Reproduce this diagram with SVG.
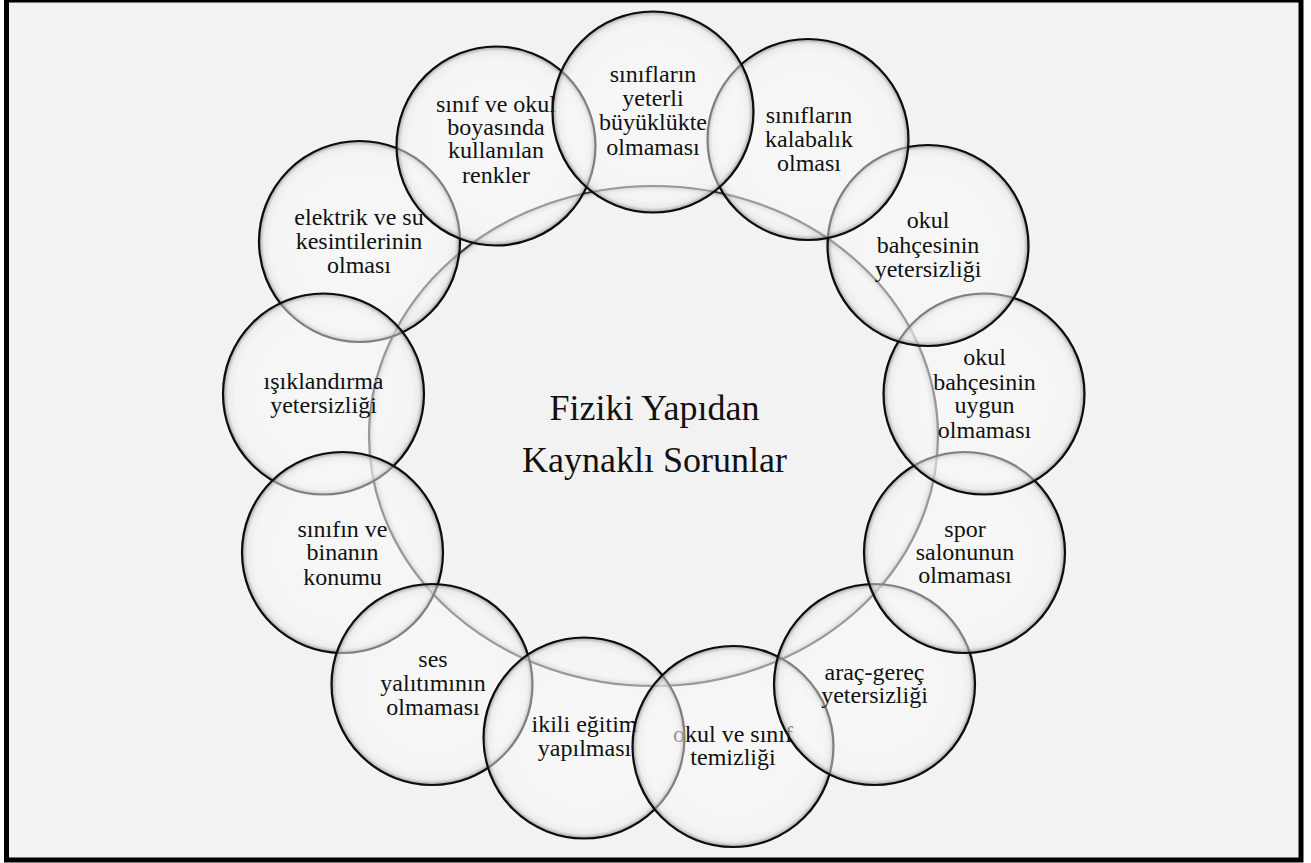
<svg xmlns="http://www.w3.org/2000/svg" width="1311" height="863" viewBox="0 0 1311 863">
<defs>
<radialGradient id="g" cx="50%" cy="50%" r="50%">
<stop offset="0%" stop-color="#ffffff" stop-opacity="0.45"/>
<stop offset="88%" stop-color="#f7f7f7" stop-opacity="0.5"/>
<stop offset="95%" stop-color="#e6e6e6" stop-opacity="0.55"/>
<stop offset="98.5%" stop-color="#a0a0a0" stop-opacity="0.7"/>
<stop offset="100%" stop-color="#555555" stop-opacity="0.8"/>
</radialGradient>
<radialGradient id="gb" cx="50%" cy="50%" r="50%">
<stop offset="0%" stop-color="#f2f2f2" stop-opacity="0"/>
<stop offset="97%" stop-color="#f2f2f2" stop-opacity="0"/>
<stop offset="99.3%" stop-color="#b5b5b5" stop-opacity="0.6"/>
<stop offset="100%" stop-color="#777777" stop-opacity="0.7"/>
</radialGradient>
</defs>
<style>
.c{fill:url(#g);stroke:#0d0d0d;stroke-width:2.2}
.big{fill:url(#gb);stroke:#3c3c3c;stroke-width:2.2}
.t{font-family:"Liberation Serif","Times New Roman",serif;font-size:24px;fill:#111;text-anchor:middle}
.tt{font-family:"Liberation Serif","Times New Roman",serif;font-size:36px;fill:#111;text-anchor:middle}
</style>
<rect x="0" y="0" width="1311" height="863" fill="#ffffff"/>
<rect x="6.5" y="0" width="1294.5" height="860" fill="#f2f2f2" stroke="#000" stroke-width="5"/>
<g id="center">
<ellipse class="big" cx="653.5" cy="436" rx="284.5" ry="250"/>
<text class="tt"><tspan x="654.5" y="420">Fiziki Yapıdan</tspan><tspan x="654.5" y="472">Kaynaklı Sorunlar</tspan></text>
</g>
<g id="connectors"></g>
<g id="n-elektrik">
<circle class="c" cx="359.5" cy="241.5" r="100.5"/>
<text class="t"><tspan x="359" y="225">elektrik ve su</tspan><tspan x="359" y="249">kesintilerinin</tspan><tspan x="359" y="273">olması</tspan></text>
</g>
<g id="n-isiklandirma">
<circle class="c" cx="323.5" cy="394" r="100.5"/>
<text class="t"><tspan x="323.5" y="389">ışıklandırma</tspan><tspan x="323.5" y="413">yetersizliği</tspan></text>
</g>
<g id="n-sinifin">
<circle class="c" cx="342.5" cy="552.5" r="100.5"/>
<text class="t"><tspan x="342.5" y="537">sınıfın ve</tspan><tspan x="342.5" y="560">binanın</tspan><tspan x="342.5" y="585">konumu</tspan></text>
</g>
<g id="n-ses">
<circle class="c" cx="432" cy="684.5" r="100.5"/>
<text class="t"><tspan x="433" y="667">ses</tspan><tspan x="433" y="691">yalıtımının</tspan><tspan x="433" y="715">olmaması</tspan></text>
</g>
<g id="n-ikili">
<circle class="c" cx="584" cy="738" r="100.5"/>
<text class="t"><tspan x="584.5" y="732">ikili eğitim</tspan><tspan x="584.5" y="756">yapılması</tspan></text>
</g>
<g id="n-temizlik">
<circle class="c" cx="733" cy="746.5" r="100.5"/>
<text class="t"><tspan x="733" y="742"><tspan fill="#999">o</tspan>kul ve sınıf</tspan><tspan x="733" y="765">temizliği</tspan></text>
</g>
<g id="n-arac">
<circle class="c" cx="874.5" cy="684.5" r="100.5"/>
<text class="t"><tspan x="874.5" y="680">araç-gereç</tspan><tspan x="874.5" y="703">yetersizliği</tspan></text>
</g>
<g id="n-spor">
<circle class="c" cx="964.5" cy="552.5" r="100.5"/>
<text class="t"><tspan x="965" y="537">spor</tspan><tspan x="965" y="560">salonunun</tspan><tspan x="965" y="583">olmaması</tspan></text>
</g>
<g id="n-bahce-uygun">
<circle class="c" cx="984" cy="394" r="100.5"/>
<text class="t"><tspan x="984.5" y="365">okul</tspan><tspan x="984.5" y="390">bahçesinin</tspan><tspan x="984.5" y="413">uygun</tspan><tspan x="984.5" y="438">olmaması</tspan></text>
</g>
<g id="n-bahce-yetersiz">
<circle class="c" cx="928" cy="245.5" r="100.5"/>
<text class="t"><tspan x="928" y="228">okul</tspan><tspan x="928" y="253">bahçesinin</tspan><tspan x="928" y="277">yetersizliği</tspan></text>
</g>
<g id="n-kalabalik">
<circle class="c" cx="808" cy="139.5" r="100.5"/>
<text class="t"><tspan x="809" y="123">sınıfların</tspan><tspan x="809" y="147">kalabalık</tspan><tspan x="809" y="171">olması</tspan></text>
</g>
<g id="n-renkler">
<circle class="c" cx="496" cy="146" r="99.5"/>
<text class="t"><tspan x="496" y="112">sınıf ve okul</tspan><tspan x="496" y="135">boyasında</tspan><tspan x="496" y="158">kullanılan</tspan><tspan x="496" y="183">renkler</tspan></text>
</g>
<g id="n-buyukluk">
<circle class="c" cx="653" cy="112" r="100.5"/>
<text class="t"><tspan x="653" y="82">sınıfların</tspan><tspan x="653" y="106">yeterli</tspan><tspan x="653" y="130">büyüklükte</tspan><tspan x="653" y="155">olmaması</tspan></text>
</g>
</svg>
